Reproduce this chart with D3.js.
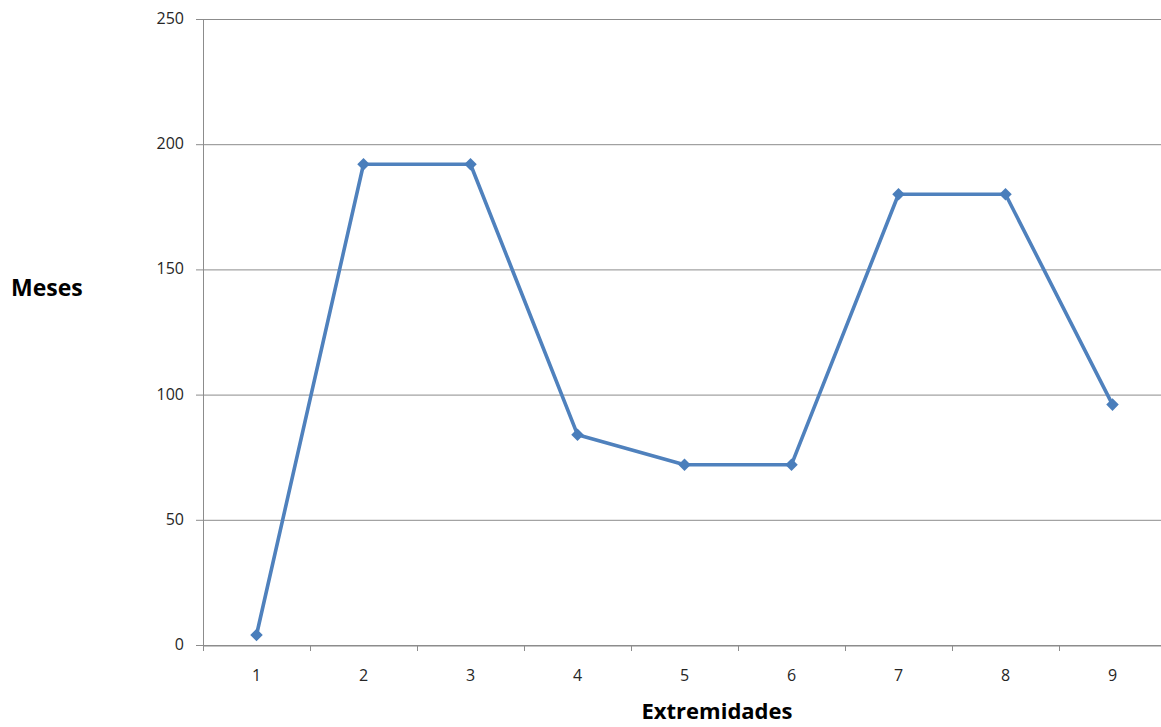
<!DOCTYPE html>
<html>
<head>
<meta charset="utf-8">
<script src="https://cdn.jsdelivr.net/npm/d3@7"></script>
<style>
  html, body { margin: 0; padding: 0; background: #fff; }
  svg { display: block; }
  text { font-family: "Open Sans", "DejaVu Sans", sans-serif; }
</style>
</head>
<body>
<svg id="chart" width="1161" height="727"></svg>
<script>
// Extremidades (x) and Meses (y)
const categories = ["1", "2", "3", "4", "5", "6", "7", "8", "9"];
const meses = [4, 192, 192, 84, 72, 72, 180, 180, 96];
const yTicks = [0, 50, 100, 150, 200, 250];

const svg = d3.select("#chart");
const plotLeft = 203, plotRight = 1166, plotTop = 19, plotBottom = 645;

const x = d3.scaleBand().domain(categories).range([plotLeft, plotRight]);
const y = d3.scaleLinear().domain([0, 250]).range([plotBottom, plotTop]);

const gridColor = "#8c8c8c";
const textColor = "#262626";

// horizontal gridlines
svg.append("g")
  .selectAll("line")
  .data(yTicks)
  .join("line")
  .attr("x1", plotLeft - 7).attr("x2", plotRight)
  .attr("y1", d => y(d) + 0.5).attr("y2", d => y(d) + 0.5)
  .attr("stroke", gridColor).attr("stroke-width", 1);

// y axis line
svg.append("line")
  .attr("x1", plotLeft + 0.5).attr("x2", plotLeft + 0.5)
  .attr("y1", plotTop).attr("y2", plotBottom)
  .attr("stroke", gridColor);

// y tick labels
svg.append("g")
  .selectAll("text")
  .data(yTicks)
  .join("text")
  .attr("x", 184)
  .attr("y", d => y(d) + 5)
  .attr("text-anchor", "end")
  .attr("font-size", 16)
  .attr("fill", textColor)
  .text(d => d);

// x axis with tick marks at category boundaries
const xAxis = d3.axisBottom(x).tickSize(0).tickPadding(0);
const gx = svg.append("g").attr("transform", `translate(0,${plotBottom + 0.5})`).call(xAxis);
gx.select(".domain").attr("stroke", gridColor);
gx.selectAll("text")
  .attr("dy", null)
  .attr("y", 35.5)
  .attr("font-size", 16).attr("fill", textColor)
  .style("font-family", '"Open Sans", "DejaVu Sans", sans-serif');
svg.append("g")
  .selectAll("line")
  .data(categories)
  .join("line")
  .attr("x1", d => Math.round(x(d)) + 0.5).attr("x2", d => Math.round(x(d)) + 0.5)
  .attr("y1", plotBottom).attr("y2", plotBottom + 6)
  .attr("stroke", gridColor);

// series line
const pts = categories.map((c, i) => [x(c) + x.bandwidth() / 2, y(meses[i])]);
svg.append("path")
  .attr("d", d3.line()(pts))
  .attr("fill", "none")
  .attr("stroke", "#4f81bd")
  .attr("stroke-width", 3.6)
  .attr("stroke-linejoin", "round");

// diamond markers
svg.append("g")
  .selectAll("path")
  .data(pts)
  .join("path")
  .attr("d", d3.symbol(d3.symbolDiamond2, 100)())
  .attr("transform", d => `translate(${d[0]},${d[1]})`)
  .attr("fill", "#4a7ebb");

// axis titles
svg.append("text")
  .attr("x", 11).attr("y", 296)
  .attr("font-size", 23).attr("font-weight", "bold").attr("fill", "#000")
  .text("Meses");

svg.append("text")
  .attr("x", 717).attr("y", 719)
  .attr("text-anchor", "middle")
  .attr("font-size", 22).attr("font-weight", "bold").attr("fill", "#000")
  .text("Extremidades");
</script>
</body>
</html>
